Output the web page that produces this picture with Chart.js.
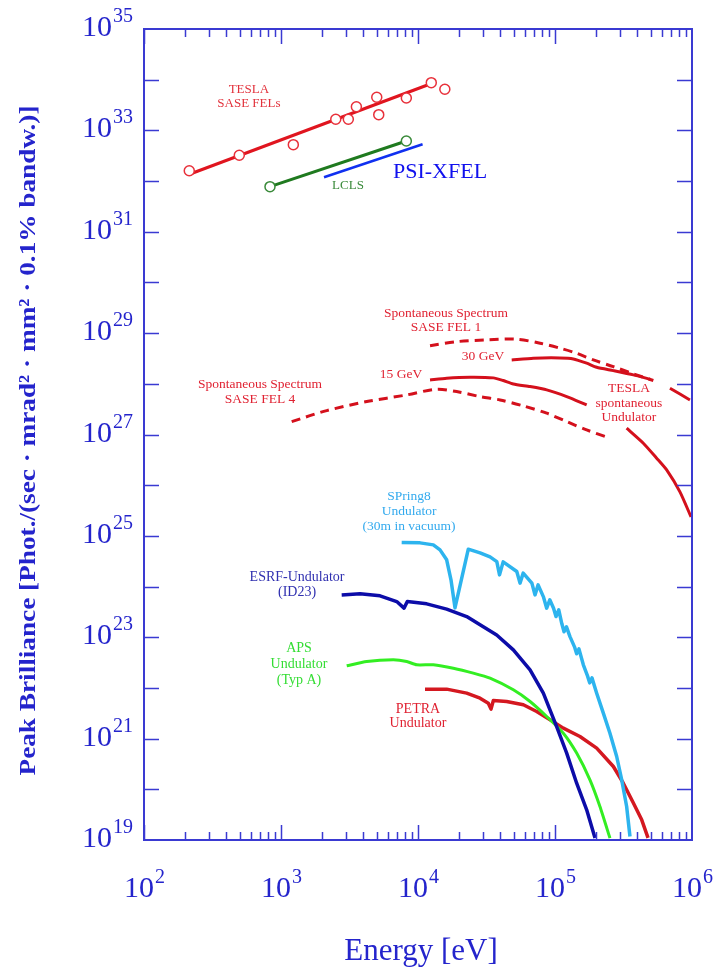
<!DOCTYPE html>
<html><head><meta charset="utf-8">
<script src="https://cdn.jsdelivr.net/npm/chart.js@4.4.0/dist/chart.umd.min.js"></script>
<style>html,body{margin:0;padding:0;background:#fff;}#wrap{width:713px;height:972px;}</style>
</head><body><div id="wrap"><canvas id="c" width="713" height="972"></canvas></div>
<script>
// ---- tick labels / titles ----
const xTickExponents = [2, 3, 4, 5, 6];
const yTickExponents = [19, 21, 23, 25, 27, 29, 31, 33, 35];
const xAxisTitle = 'Energy [eV]';
const yAxisTitle = 'Peak Brilliance [Phot./(sec · mrad² · mm² · 0.1% bandw.)]';

// ---- data (energy in eV, peak brilliance) ----
const teslaFelPointsE = [214, 496, 1230, 2510, 3100, 3550, 5000, 5170, 8220, 12500, 15700];
const teslaFelPointsB = [1.60e32, 3.23e32, 5.22e32, 1.66e33, 1.66e33, 2.93e33, 4.50e33, 2.04e33, 4.36e33, 8.73e33, 6.47e33];
const teslaFelLineE = [217, 11600];
const teslaFelLineB = [1.38e32, 7.76e33];
const lclsE = [831, 8220];
const lclsB = [7.76e31, 6.17e32];
const psiXfelE = [2060, 10800];
const psiXfelB = [1.19e32, 5.32e32];

const sponFel1E = [12240, 19150, 31700, 52500, 77800, 108700, 143900, 190500, 266700, 373300, 522200];
const sponFel1B = [5.66e28, 6.79e28, 7.35e28, 7.59e28, 6.32e28, 5.04e28, 4.01e28, 2.96e28, 2.18e28, 1.57e28, 1.16e28];
const tesla30GeVE = [48300, 69500, 108700, 136100, 170300, 201500, 266700, 373300, 493500, 580000, 690500, 966000];
const tesla30GeVB = [2.96e28, 3.20e28, 3.24e28, 3.10e28, 2.55e28, 2.12e28, 1.82e28, 1.50e28, 1.23e28, null, 8.18e27, 4.81e27];
const tesla15GeVE = [12240, 16200, 23990, 35480, 41970, 49650, 65750, 86960, 121700, 170300, 250000, 333400, 441300, 552100, 653300, 816600, 984000];
const tesla15GeVB = [1.19e28, 1.29e28, 1.35e28, 1.31e28, 1.16e28, 9.95e27, 8.81e27, 7.59e27, 5.60e27, 3.84e27, null, 1.33e27, 6.73e26, 3.41e26, 2.00e26, 7.38e25, 2.37e25];
const sponFel4E = [1197, 2157, 4226, 8275, 13680, 19150, 28370, 39700, 58730, 86960, 121700, 170300, 251800];
const sponFel4B = [1.80e27, 2.96e27, 4.46e27, 6.04e27, 7.82e27, 7.02e27, 5.60e27, 4.81e27, 3.66e27, 2.63e27, 1.80e27, 1.23e27, 8.45e26];

const spring8E = [7600, 10350, 12940, 14480, 16190, 17410, 18620, 23290, 28370, 33560, 37600, 39360, 41850, 52600, 55550, 58600, 67800, 71450, 75300, 82500, 86960, 91600, 97600, 101700, 106500, 112200, 116400, 121300, 128600, 138800, 143900, 149500, 161000, 172700, 179100, 186100, 201500, 225300, 251800, 282000, 306900, 333400, 352500];
const spring8B = [7.38e24, 7.28e24, 6.64e24, 5.30e24, 3.37e24, 1.36e24, 3.80e23, 5.47e24, 4.62e24, 3.85e24, 3.11e24, 1.70e24, 3.07e24, 1.98e24, 1.17e24, 1.84e24, 1.17e24, 6.85e23, 1.08e24, 6.18e23, 3.75e23, 5.47e23, 3.75e23, 2.56e23, 3.47e23, 1.84e23, 1.28e23, 1.60e23, 1.03e23, 6.47e22, 4.71e22, 5.90e22, 2.86e22, 1.73e22, 1.26e22, 1.58e22, 7.89e21, 3.18e21, 1.28e21, 4.44e20, 1.54e20, 4.58e19, 1.17e19];
const esrfE = [2773, 3776, 5282, 6995, 7907, 8356, 11580, 16190, 22660, 28370, 37530, 49650, 65750, 82200, 102800, 121700, 143900, 170300, 195900];
const esrfB = [6.85e23, 7.18e23, 6.56e23, 5.06e23, 3.75e23, 5.06e23, 4.56e23, 3.58e23, 2.56e23, 1.76e23, 1.11e23, 5.64e22, 2.28e22, 7.89e21, 1.73e21, 5.18e20, 1.32e20, 3.94e19, 1.09e19];
const apsE = [3017, 4226, 6601, 8275, 9790, 12940, 18110, 25330, 33560, 49650, 65750, 86960, 115000, 143900, 179900, 212800, 251800];
const apsB = [2.73e22, 3.32e22, 3.58e22, 3.32e22, 2.86e22, 2.86e22, 2.45e22, 1.96e22, 1.56e22, 9.18e21, 5.40e21, 2.73e21, 1.28e21, 5.18e20, 1.54e20, 4.58e19, 1.09e19];
const petraE = [11250, 16190, 22660, 28370, 32600, 34120, 35480, 44370, 58730, 73490, 92000, 115000, 152100, 201500, 266700, 315200, 373300, 429500, 477500];
const petraB = [9.47e21, 9.47e21, 7.89e21, 6.29e21, 5.01e21, 3.82e21, 5.64e21, 5.40e21, 4.65e21, 3.43e21, 2.35e21, 1.61e21, 1.10e21, 6.50e20, 2.82e20, 1.32e20, 5.35e19, 2.50e19, 1.10e19];

// ---- in-plot labels (anchored in data coordinates) ----
const labelTexts = [
  {lines: ['TESLA', 'SASE FELs'], e: 583, b: 6.27e33, color: '#e2323c', size: 13, lh: 14},
  {lines: ['LCLS'], e: 3083, b: 8.0e31, color: '#3a8a3a', size: 13, lh: 14},
  {lines: ['PSI-XFEL'], e: 14480, b: 1.51e32, color: '#1010ee', size: 22, lh: 22},
  {lines: ['Spontaneous Spectrum', 'SASE FEL 1'], e: 16000, b: 2.50e29, color: '#e02232', size: 13.5, lh: 14},
  {lines: ['30 GeV'], e: 29800, b: 3.40e28, color: '#e02232', size: 13.5, lh: 14},
  {lines: ['15 GeV'], e: 7515, b: 1.50e28, color: '#e02232', size: 13.5, lh: 14},
  {lines: ['TESLA', 'spontaneous', 'Undulator'], e: 346700, b: 7.93e27, color: '#e02232', size: 13.5, lh: 14.5},
  {lines: ['Spontaneous Spectrum', 'SASE FEL 4'], e: 703, b: 9.51e27, color: '#e02232', size: 13.5, lh: 15},
  {lines: ['SPring8', 'Undulator', '(30m in vacuum)'], e: 8600, b: 5.87e25, color: '#33aaee', size: 13.5, lh: 15},
  {lines: ['ESRF-Undulator', '(ID23)'], e: 1309, b: 1.55e24, color: '#3030b0', size: 14, lh: 15},
  {lines: ['APS', 'Undulator', '(Typ A)'], e: 1353, b: 6.18e22, color: '#33dd33', size: 14, lh: 16},
  {lines: ['PETRA', 'Undulator'], e: 10000, b: 3.87e21, color: '#e02232', size: 14, lh: 14}
];

const axisColor = '#3a3ad2';
const textBlue = '#2424cc';
const serif = '"Liberation Serif", "DejaVu Serif", serif';

function pts(E, B) { return E.map((e, i) => ({x: e, y: B[i]})); }

function lineDs(label, E, B, color, extra) {
  return Object.assign({
    label, data: pts(E, B), showLine: true, borderColor: color, backgroundColor: color,
    borderWidth: 3, pointRadius: 0, tension: 0, spanGaps: false, fill: false,
    borderJoinStyle: 'round'
  }, extra || {});
}

const datasets = [
  {label: 'TESLA SASE FELs points', data: pts(teslaFelPointsE, teslaFelPointsB), showLine: false,
   pointRadius: 5, pointBorderWidth: 1.5, pointBorderColor: '#e8303a', pointBackgroundColor: '#ffffff'},
  {label: 'LCLS points', data: pts(lclsE, lclsB), showLine: false,
   pointRadius: 5, pointBorderWidth: 1.5, pointBorderColor: '#3a8a3a', pointBackgroundColor: '#ffffff'},
  lineDs('TESLA SASE FELs', teslaFelLineE, teslaFelLineB, '#e0151f'),
  lineDs('LCLS', lclsE, lclsB, '#1f7a1f'),
  lineDs('PSI-XFEL', psiXfelE, psiXfelB, '#1030f0', {borderWidth: 2.5}),
  lineDs('Spontaneous SASE FEL 1', sponFel1E, sponFel1B, '#d4101c', {borderDash: [9, 6], tension: 0.3}),
  lineDs('TESLA 30 GeV', tesla30GeVE, tesla30GeVB, '#d4101c', {tension: 0.2}),
  lineDs('TESLA 15 GeV', tesla15GeVE, tesla15GeVB, '#d4101c', {tension: 0.2}),
  lineDs('Spontaneous SASE FEL 4', sponFel4E, sponFel4B, '#d4101c', {borderDash: [9, 6], tension: 0.3}),
  lineDs('SPring8', spring8E, spring8B, '#2db4ee', {borderWidth: 3.5}),
  lineDs('ESRF', esrfE, esrfB, '#0c0ca8', {borderWidth: 3.5}),
  lineDs('APS', apsE, apsB, '#33ee22', {tension: 0.2}),
  lineDs('PETRA', petraE, petraB, '#d41820', {borderWidth: 3.5})
];

function drawPower(ctx, exp, x, y, align) {
  const base = '10', sup = String(exp);
  ctx.font = '30px ' + serif;
  const wb = ctx.measureText(base).width;
  ctx.font = '20px ' + serif;
  const ws = ctx.measureText(sup).width;
  let x0;
  if (align === 'center') x0 = x - (wb + ws) / 2;
  else x0 = x - (wb + ws); // right
  ctx.textAlign = 'left';
  ctx.textBaseline = 'alphabetic';
  ctx.font = '30px ' + serif;
  ctx.fillText(base, x0, y);
  ctx.font = '20px ' + serif;
  ctx.fillText(sup, x0 + wb + 1, y - 14);
}

const framePlugin = {
  id: 'frame',
  afterDraw(chart) {
    const {ctx, chartArea: a, scales: {x, y}} = chart;
    ctx.save();
    // in-plot labels
    labelTexts.forEach(l => {
      const px = x.getPixelForValue(l.e), py = y.getPixelForValue(l.b);
      ctx.fillStyle = l.color;
      ctx.font = l.size + 'px ' + serif;
      ctx.textAlign = 'center';
      ctx.textBaseline = 'middle';
      l.lines.forEach((t, i) => ctx.fillText(t, px, py + i * l.lh));
    });
    // frame
    ctx.strokeStyle = axisColor;
    ctx.lineWidth = 2;
    ctx.strokeRect(a.left, a.top, a.right - a.left, a.bottom - a.top);
    ctx.lineWidth = 1.5;
    ctx.beginPath();
    for (let d = xTickExponents[0]; d < xTickExponents[xTickExponents.length - 1]; d++) {
      for (let m = 1; m <= 9; m++) {
        const v = m * Math.pow(10, d);
        const px = Math.round(x.getPixelForValue(v)) + 0.5;
        const len = m === 1 ? 15 : 8;
        ctx.moveTo(px, a.bottom); ctx.lineTo(px, a.bottom - len);
        ctx.moveTo(px, a.top); ctx.lineTo(px, a.top + len);
      }
    }
    const y0 = yTickExponents[0], y1 = yTickExponents[yTickExponents.length - 1];
    for (let d = y0 + 1; d < y1; d++) {
      const py = Math.round(y.getPixelForValue(Math.pow(10, d))) + 0.5;
      ctx.moveTo(a.left, py); ctx.lineTo(a.left + 15, py);
      ctx.moveTo(a.right, py); ctx.lineTo(a.right - 15, py);
    }
    ctx.stroke();
    // tick labels
    ctx.fillStyle = textBlue;
    xTickExponents.forEach(e => {
      drawPower(ctx, e, x.getPixelForValue(Math.pow(10, e)), a.bottom + 57, 'center');
    });
    yTickExponents.forEach(e => {
      drawPower(ctx, e, a.left - 12, y.getPixelForValue(Math.pow(10, e)) + 7, 'right');
    });
    // axis titles
    ctx.font = '31px ' + serif;
    ctx.textAlign = 'center';
    ctx.textBaseline = 'alphabetic';
    ctx.fillText(xAxisTitle, (a.left + a.right) / 2 + 3, a.bottom + 120);
    ctx.save();
    ctx.translate(35, (a.top + a.bottom) / 2 + 6);
    ctx.rotate(-Math.PI / 2);
    ctx.font = 'bold 23px ' + serif;
    const w = ctx.measureText(yAxisTitle).width;
    ctx.scale(670 / w, 1);
    ctx.fillText(yAxisTitle, 0, 0);
    ctx.restore();
    ctx.restore();
  }
};

new Chart(document.getElementById('c').getContext('2d'), {
  type: 'scatter',
  data: {datasets},
  options: {
    responsive: false,
    animation: false,
    layout: {padding: {left: 144, top: 29, right: 21, bottom: 132}},
    plugins: {legend: {display: false}, tooltip: {enabled: false}},
    scales: {
      x: {type: 'logarithmic', min: 1e2, max: 1e6, display: false},
      y: {type: 'logarithmic', min: 1e19, max: 1e35, display: false}
    }
  },
  plugins: [framePlugin]
});
</script>
</body></html>
